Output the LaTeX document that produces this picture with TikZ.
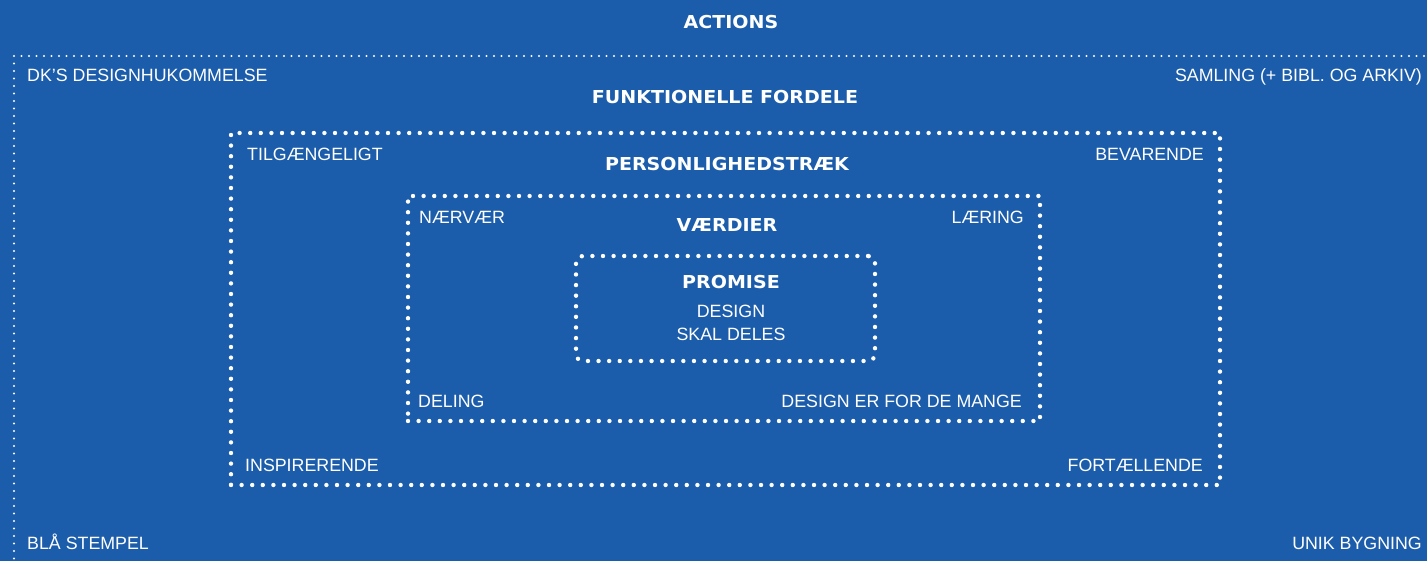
\documentclass[tikz,border=0pt]{standalone}
\usepackage{fontspec}
\setmainfont{Liberation Sans}
\newfontfamily\headfont[FakeStretch=1.07]{DejaVu Sans}
\definecolor{dkblue}{RGB}{28,93,171}
\tikzset{
    outerdots/.style={draw=white,line width=2.4pt,line cap=round,dash pattern=on 0pt off 7.5pt},
    innerdots/.style={draw=white,line width=4.4pt,line cap=round,dash pattern=on 0pt off 10.6pt},
    ringbox/.style={rectangle,inner sep=0pt,outer sep=0pt},
    label/.style={text=white,inner sep=0pt,font=\fontsize{17.8}{20}\selectfont},
    heading/.style={text=white,inner sep=0pt,align=center,font=\headfont\bfseries\fontsize{17.8}{21}\selectfont}
}
\begin{document}
\begin{tikzpicture}[x=1pt,y=-1pt]
        \fill[dkblue] (0,0) rectangle (1427,561);
        \useasboundingbox (0,0) rectangle (1427,561);
        % dotted rings
        \begin{scope}[every node/.style={ringbox}]
            \node (actions) [outerdots,minimum width=1440pt,minimum height=540pt,anchor=north west] at (14,56) {};
            \node (fordele) [innerdots,minimum width=989pt,minimum height=352pt] at (725.5,309) {};
            \node (traek) [innerdots,minimum width=632pt,minimum height=225pt] at (724,308.5) {};
            \node (promise) [innerdots,rounded corners=7pt,minimum width=299pt,minimum height=105pt] at (725.5,308.5) {};
        \end{scope}
        % headings
        \begin{scope}[every node/.style={heading,anchor=base}]
            \node (actionshead) at (731,29) {ACTIONS};
            \node (fordelehead) at (725,103.5) {FUNKTIONELLE FORDELE};
            \node (traekhead) at (727,171) {PERSONLIGHEDSTRÆK};
            \node (vaerdihead) at (727,232) {VÆRDIER};
            \node (promisehead) at (731,289) {PROMISE};
        \end{scope}
        \node (promisetext) [label,anchor=base,align=center] at (731,340.5) {DESIGN\\[3pt]SKAL DELES};
        % corner labels
        \begin{scope}[every node/.style={label,anchor=base west}]
            \node (dk) at (27,81.5) {DK’S DESIGNHUKOMMELSE};
            \node (tilg) at (247,161) {TILGÆNGELIGT};
            \node (naer) at (419,224) {NÆRVÆR};
            \node (deling) at (418,407.5) {DELING};
            \node (insp) at (245,471) {INSPIRERENDE};
            \node (blaa) at (27,549.5) {BLÅ STEMPEL};
        \end{scope}
        \begin{scope}[every node/.style={label,anchor=base east}]
            \node (samling) at (1422,81.5) {SAMLING (+ BIBL. OG ARKIV)};
            \node (bevar) at (1204,161) {BEVARENDE};
            \node (laer) at (1024,224) {LÆRING};
            \node (mange) at (1022,407.5) {DESIGN ER FOR DE MANGE};
            \node (fort) at (1203,471) {FORTÆLLENDE};
            \node (unik) at (1422,549.5) {UNIK BYGNING};
        \end{scope}
    \end{tikzpicture}
\end{document}
